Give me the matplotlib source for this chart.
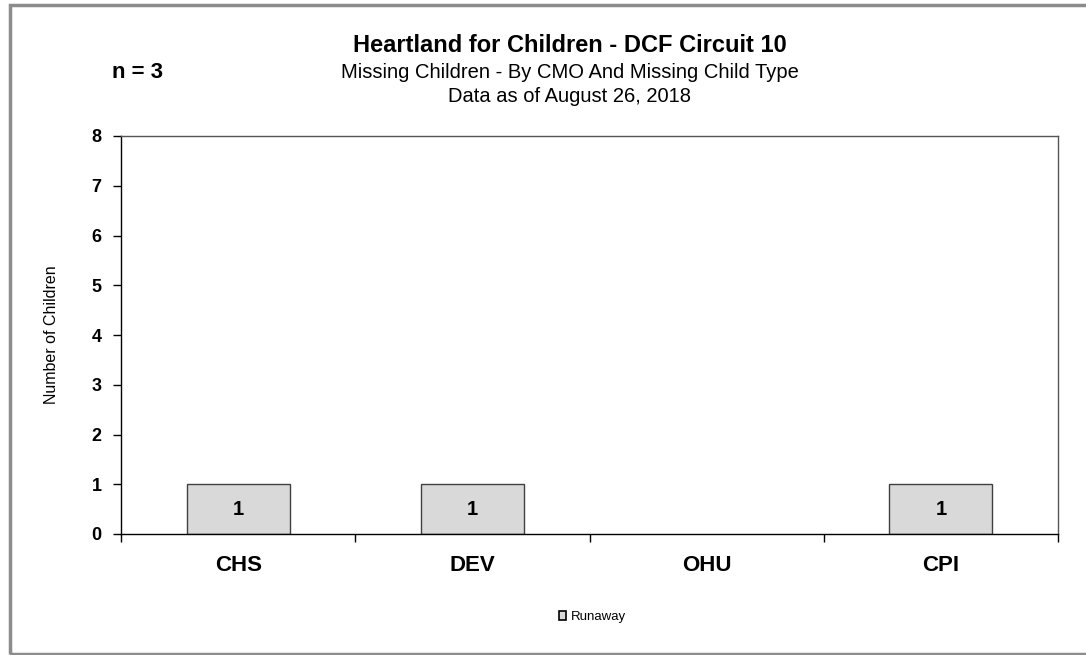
import matplotlib.pyplot as plt
from matplotlib.patches import Rectangle, Patch

plt.rcParams['font.family'] = ['Liberation Sans', 'DejaVu Sans']

# data
categories = ["CHS", "DEV", "OHU", "CPI"]
runaway = [1, 1, 0, 1]
n_total = 3

fig = plt.figure(figsize=(10.86, 6.55), dpi=100)

# outer frame of the chart
fig.patches.append(Rectangle((10 / 1086, 1 / 655), 1.1, 649 / 655, transform=fig.transFigure,
                             fill=False, edgecolor="#8c8c8c", linewidth=2.5))

ax = fig.add_axes([121 / 1086, (655 - 534) / 655, (1058 - 121) / 1086, (534 - 136) / 655])

x = list(range(len(categories)))
bars = ax.bar(x, runaway, width=0.44, color="#d9d9d9", edgecolor="#404040", linewidth=1.0,
              label="Runaway", zorder=2)
for b, v in zip(bars, runaway):
    if v == 0:
        b.set_visible(False)
for xi, v in zip(x, runaway):
    if v > 0:
        ax.text(xi, v / 2, str(v), ha="center", va="center", fontsize=14.5, fontweight="bold")

ax.set_xlim(-0.5, len(categories) - 0.5)
ax.set_ylim(0, 8)
ax.set_yticks(range(0, 9))
ax.set_xticks([i - 0.5 for i in range(len(categories) + 1)])
ax.set_xticklabels([])
ax.set_xticks(x, minor=True)
ax.set_xticklabels(categories, minor=True, fontsize=16, fontweight="bold")
ax.tick_params(axis="x", which="minor", length=0, pad=15)
ax.tick_params(axis="x", which="major", length=6, direction="out", width=1)
ax.tick_params(axis="y", length=6, direction="out", width=1, labelsize=13, pad=8)
for lab in ax.get_yticklabels():
    lab.set_fontweight("bold")

for s in ["left", "bottom"]:
    ax.spines[s].set_color("black")
    ax.spines[s].set_linewidth(1.0)
for s in ["top", "right"]:
    ax.spines[s].set_color("#555555")
    ax.spines[s].set_linewidth(1.0)

ax.set_ylabel("Number of Children", fontsize=11.5, labelpad=23)

cx = 570 / 1086
fig.text(cx, 1 - 45 / 655, "Heartland for Children - DCF Circuit 10", ha="center", va="center",
         fontsize=17, fontweight="bold")
fig.text(cx, 1 - 72 / 655, "Missing Children - By CMO And Missing Child Type", ha="center",
         va="center", fontsize=14.5)
fig.text(cx, 1 - 96 / 655, "Data as of August 26, 2018", ha="center", va="center", fontsize=14.5)
fig.text(137 / 1086, 1 - 73 / 655, "n = %d" % n_total, ha="center", va="center", fontsize=16,
         fontweight="bold")

fig.legend(handles=[Patch(facecolor="#d9d9d9", edgecolor="black", linewidth=1.2, label="Runaway")],
           loc="center", bbox_to_anchor=(592 / 1086, 1 - 617 / 655), frameon=False, fontsize=9.5,
           handlelength=0.6, handleheight=0.6, handletextpad=0.3)

fig.savefig("out.png", dpi=100)
